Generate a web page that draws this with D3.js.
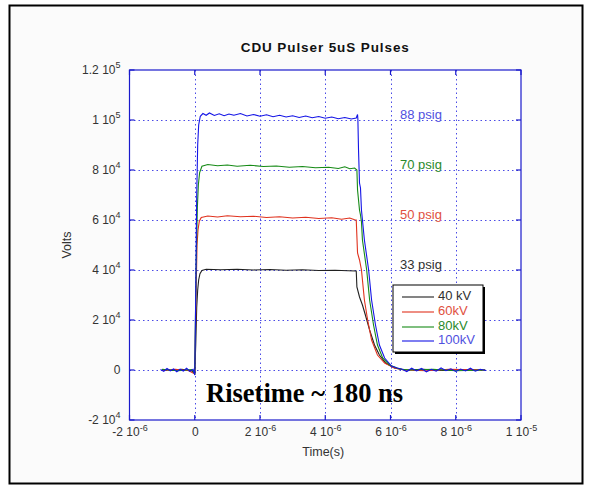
<!DOCTYPE html>
<html><head><meta charset="utf-8">
<script src="https://cdn.jsdelivr.net/npm/d3@7"></script>
<style>body{margin:0;background:#fff;}</style>
</head><body>
<svg id="c" width="589" height="489" font-family="'Liberation Sans',Arial,sans-serif"></svg>
<script>
// ---------- data (time in microseconds, volts) ----------
const seriesNames = ["40 kV", "60kV", "80kV", "100kV"];
const pressureLabels = ["33 psig", "50 psig", "70 psig", "88 psig"];
const pressureLevels = [40000, 60000, 80000, 100000];

const kv40 = [[-1.0,200],[-0.7,-200],[-0.4,300],[-0.1,-300],[0.0,-1200],[0.03,10000],[0.06,25000],[0.09,32000],[0.12,36000],[0.16,38500],[0.22,39800],[0.35,40300],
 [0.8,40100],[1.3,40300],[1.8,40000],[2.3,40200],[2.8,39900],[3.3,40100],[3.8,39800],[4.3,39900],[4.7,39700],[4.95,39600],
 [4.97,33200],[5.05,29200],[5.14,26000],[5.23,22000],[5.36,16000],[5.51,10000],[5.66,6000],[5.85,2800],[6.12,800],[6.43,0],[7.0,300],[7.6,-200],[8.2,200],[8.9,0]];
const kv60 = [[-1.0,-200],[-0.6,300],[-0.2,-200],[0.0,-1500],[0.04,30000],[0.07,50000],[0.1,56000],[0.14,59500],[0.2,61000],[0.4,61600],
 [0.7,61200],[1.0,61700],[1.4,61300],[1.8,61500],[2.2,61000],[2.6,61300],[3.0,60800],[3.4,61100],[3.8,60600],[4.2,60900],[4.5,60300],[4.75,60800],[4.9,60100],[4.95,60000],
 [4.99,46800],[5.05,44000],[5.11,40000],[5.20,28000],[5.30,20000],[5.42,12000],[5.60,6000],[5.82,2800],[6.12,800],[6.43,0],[7.1,-300],[7.8,300],[8.9,0]];
const kv80 = [[-1.0,300],[-0.5,-300],[-0.1,200],[0.0,-1500],[0.04,40000],[0.08,65000],[0.11,74000],[0.15,79000],[0.22,81500],[0.4,82200],
 [0.7,81700],[1.0,82000],[1.3,81500],[1.7,81900],[2.1,81400],[2.5,81600],[2.9,81100],[3.3,81400],[3.7,80900],[4.1,81100],[4.4,80600],[4.6,81300],[4.75,80500],[4.9,80800],[4.97,80000],
 [4.99,72000],[5.05,64000],[5.08,62000],[5.11,59200],[5.14,52000],[5.27,40000],[5.36,28000],[5.48,18000],[5.60,10000],[5.76,4800],[5.97,2000],[6.28,400],[6.58,0],[7.3,300],[8.0,-300],[8.9,0]];
const kv100 = [[-1.05,200],[-0.95,-500],[-0.85,600],[-0.75,-300],[-0.65,400],[-0.55,-700],[-0.45,300],[-0.35,-400],[-0.25,700],[-0.15,-500],[-0.05,300],[0.0,-2000],
 [0.03,30000],[0.06,70000],[0.09,90000],[0.12,98000],[0.17,101500],[0.25,102600],[0.35,101900],[0.45,102800],[0.6,101800],[0.75,102500],[0.9,101700],[1.05,102400],[1.2,101900],
 [1.4,102600],[1.6,101600],[1.8,102200],[2.0,101500],[2.2,102100],[2.4,101300],[2.6,101900],[2.8,101200],[3.0,101700],[3.2,101000],[3.4,101600],[3.6,100900],[3.8,101400],
 [4.0,100700],[4.2,101200],[4.4,100500],[4.6,101000],[4.8,100400],[4.95,100800],[4.99,102200],[5.00,100400],
 [5.02,88000],[5.05,74800],[5.08,72800],[5.11,64000],[5.20,52000],[5.33,40000],[5.42,28000],[5.54,18000],[5.66,10000],[5.82,4800],[6.03,1600],[6.2,800],[6.34,400],
 [6.5,-600],[6.65,700],[6.8,-400],[6.95,600],[7.1,-700],[7.25,300],[7.4,-500],[7.55,800],[7.7,-300],[7.85,500],[8.0,-600],[8.15,400],[8.3,-400],[8.45,700],[8.6,-500],[8.75,300],[8.93,-200]];

const xTickVals = [-2, 0, 2, 4, 6, 8, 10];
const xTickMant = ["-2 10", "0", "2 10", "4 10", "6 10", "8 10", "1 10"];
const xTickExp  = ["-6", "", "-6", "-6", "-6", "-6", "-5"];
const yTickVals = [-20000, 0, 20000, 40000, 60000, 80000, 100000, 120000];
const yTickMant = ["-2 10", "0", "2 10", "4 10", "6 10", "8 10", "1 10", "1.2 10"];
const yTickExp  = ["4", "", "4", "4", "4", "4", "5", "5"];

const seriesData = [kv40, kv60, kv80, kv100];
const colors = ["#202020", "#e0321e", "#168a16", "#1414e6"];
const labelColors = ["#303030", "#e05040", "#2a8a2a", "#5050e0"];

// ---------- drawing ----------
const svg = d3.select("#c");
svg.append("rect").attr("x",0).attr("y",0).attr("width",589).attr("height",489).attr("fill","#fff");
svg.append("rect").attr("x",9.5).attr("y",5.5).attr("width",573).attr("height",478)
  .attr("fill","#fbfbfb").attr("stroke","#000").attr("stroke-width",2);

const L = 129.5, R = 521, T = 70, B = 420;
const x = d3.scaleLinear().domain([-2, 10]).range([L, R]);
const y = d3.scaleLinear().domain([-20000, 120000]).range([B, T]);

svg.append("rect").attr("x",L).attr("y",T).attr("width",R-L).attr("height",B-T).attr("fill","#fff");

// grid
const gridColor = "#4b4be6";
svg.append("g").selectAll("line").data(xTickVals.slice(1,-1)).join("line")
  .attr("x1",d=>Math.round(x(d))+0.5).attr("x2",d=>Math.round(x(d))+0.5).attr("y1",T).attr("y2",B)
  .attr("stroke",gridColor).attr("stroke-width",1).attr("stroke-dasharray","1.5,3");
svg.append("g").selectAll("line").data(yTickVals.slice(1,-1)).join("line")
  .attr("y1",d=>Math.round(y(d))+0.5).attr("y2",d=>Math.round(y(d))+0.5).attr("x1",L).attr("x2",R)
  .attr("stroke",gridColor).attr("stroke-width",1).attr("stroke-dasharray","1.5,3");

// series
const line = d3.line().x(d=>x(d[0])).y(d=>y(d[1]));
seriesData.forEach((s,i)=>{
  svg.append("path").attr("d",line(s)).attr("fill","none").attr("stroke",colors[i]).attr("stroke-width",1.1);
});

// axes box + ticks
const axisColor = "#1a1acc";
svg.append("rect").attr("x",L).attr("y",T).attr("width",R-L).attr("height",B-T)
  .attr("fill","none").attr("stroke",axisColor).attr("stroke-width",1.2);
const tk = svg.append("g").attr("stroke",axisColor).attr("stroke-width",1.2);
xTickVals.forEach(v=>{
  tk.append("line").attr("x1",x(v)).attr("x2",x(v)).attr("y1",B).attr("y2",B-5);
  tk.append("line").attr("x1",x(v)).attr("x2",x(v)).attr("y1",T).attr("y2",T+5);
});
yTickVals.forEach(v=>{
  tk.append("line").attr("x1",L).attr("x2",L+5).attr("y1",y(v)).attr("y2",y(v));
  tk.append("line").attr("x1",R).attr("x2",R-5).attr("y1",y(v)).attr("y2",y(v));
});

// axis labels via d3 axes
const xAxis = d3.axisBottom(x).tickValues(xTickVals).tickSize(0).tickPadding(0).tickFormat((d,i)=>xTickMant[i]);
const gx = svg.append("g").attr("transform",`translate(0,${B+13})`).call(xAxis);
gx.attr("font-family",null).attr("font-size",null);
gx.select(".domain").remove();
gx.selectAll(".tick text").each(function(d,i){
  const t = d3.select(this);
  t.text(null).attr("dy",null).attr("y",0).attr("fill","#333").attr("font-size",12).attr("dominant-baseline","middle");
  t.append("tspan").text(xTickMant[i]);
  if (xTickExp[i]) t.append("tspan").attr("dy",-4.5).attr("font-size",9).text(xTickExp[i]);
});

const yAxis = d3.axisLeft(y).tickValues(yTickVals).tickSize(0).tickPadding(0).tickFormat((d,i)=>yTickMant[i]);
const gy = svg.append("g").attr("transform",`translate(${L-9},0)`).call(yAxis);
gy.attr("font-family",null).attr("font-size",null);
gy.select(".domain").remove();
gy.selectAll(".tick text").each(function(d,i){
  const t = d3.select(this);
  t.text(null).attr("dy",null).attr("x",0).attr("fill","#333").attr("font-size",12).attr("dominant-baseline","middle")
   .attr("text-anchor","end");
  t.append("tspan").text(yTickMant[i]);
  if (yTickExp[i]) t.append("tspan").attr("dy",-4.5).attr("font-size",9).text(yTickExp[i]);
});

// title & labels
svg.append("text").attr("x",(L+R)/2).attr("y",52).attr("text-anchor","middle")
  .attr("font-size",13.5).attr("letter-spacing",0.9).attr("font-weight","bold").attr("fill","#111").text("CDU Pulser 5uS Pulses");
svg.append("text").attr("x",(L+R)/2 - 2).attr("y",456).attr("text-anchor","middle")
  .attr("font-size",12.5).attr("fill","#333").text("Time(s)");
svg.append("text").attr("transform",`translate(71,${(T+B)/2}) rotate(-90)`).attr("text-anchor","middle")
  .attr("font-size",12.5).attr("fill","#333").text("Volts");

// pressure labels
pressureLabels.forEach((p,i)=>{
  svg.append("text").attr("x",400).attr("y",y(pressureLevels[i])-1.5)
    .attr("font-size",13).attr("fill",labelColors[i]).text(p);
});

// Risetime annotation
svg.append("text").attr("x",206).attr("y",402)
  .attr("font-family","'Liberation Serif','Times New Roman',serif").attr("font-weight","bold")
  .attr("font-size",26.5).attr("fill","#000").text("Risetime ~ 180 ns");

// legend
const lg = svg.append("g");
lg.append("rect").attr("x",395).attr("y",287).attr("width",90).attr("height",67).attr("fill","#000");
lg.append("rect").attr("x",393).attr("y",285).attr("width",90).attr("height",67).attr("fill","#fff").attr("stroke","#000").attr("stroke-width",1);
const rowY = [297, 312, 327, 341];
seriesNames.forEach((n,i)=>{
  lg.append("line").attr("x1",402).attr("x2",434).attr("y1",rowY[i]).attr("y2",rowY[i]).attr("stroke",colors[i]).attr("stroke-width",1.1);
  lg.append("text").attr("x",438).attr("y",rowY[i]).attr("dominant-baseline","middle").attr("font-size",13)
    .attr("fill",labelColors[i]).text(n);
});
</script>
</body></html>
